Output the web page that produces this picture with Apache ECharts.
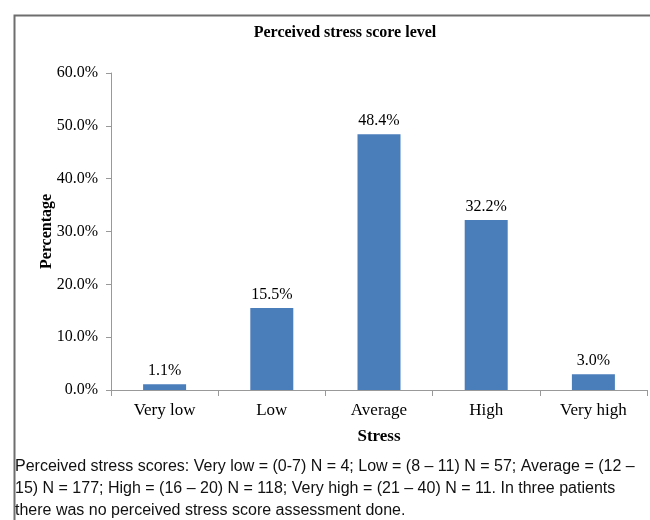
<!DOCTYPE html>
<html>
<head>
<meta charset="utf-8">
<script src="https://cdn.jsdelivr.net/npm/echarts@6/dist/echarts.min.js"></script>
<style>html,body{margin:0;padding:0;background:#fff;}#c{width:650px;height:520px;}</style>
</head>
<body>
<div id="c"></div>
<script>
const categories = ['Very low', 'Low', 'Average', 'High', 'Very high'];
const values = [1.1, 15.5, 48.4, 32.2, 3.0];
const yTicks = [0, 10, 20, 30, 40, 50, 60];
const titleText = 'Perceived stress score level';
const footnote = 'Perceived stress scores: Very low = (0-7) N = 4; Low = (8 \u2013 11) N = 57; Average = (12 \u2013\n15) N = 177; High = (16 \u2013 20) N = 118; Very high = (21 \u2013 40) N = 11. In three patients\nthere was no perceived stress score assessment done.';

const chart = echarts.init(document.getElementById('c'));
const serif = '"Liberation Serif", "Times New Roman", serif';
chart.setOption({
  animation: false,
  title: {
    text: titleText, left: 340, top: 20, textAlign: 'center',
    textStyle: { fontFamily: serif, fontSize: 16, fontWeight: 'bold', color: '#000' }
  },
  grid: { left: 111, right: 3, top: 73, bottom: 130, containLabel: false },
  xAxis: {
    type: 'category', data: categories,
    name: 'Stress', nameLocation: 'middle', nameGap: 38,
    nameTextStyle: { fontFamily: serif, fontSize: 17, fontWeight: 'bold', color: '#000' },
    axisLine: { lineStyle: { color: '#999', width: 1 } },
    axisTick: { show: true, alignWithLabel: false, length: 6, lineStyle: { color: '#999' } },
    axisLabel: { fontFamily: serif, fontSize: 17, color: '#000', margin: 12 }
  },
  yAxis: {
    type: 'value', min: yTicks[0], max: yTicks[yTicks.length - 1], interval: 10,
    name: 'Percentage', nameLocation: 'middle', nameGap: 56, nameRotate: 90, nameMoveOverlap: false,
    nameTextStyle: { fontFamily: serif, fontSize: 16, fontWeight: 'bold', color: '#000' },
    axisLine: { show: true, lineStyle: { color: '#999', width: 1 } },
    axisTick: { show: true, length: 5, lineStyle: { color: '#999' } },
    axisLabel: { fontFamily: serif, fontSize: 16, color: '#000', margin: 13, formatter: v => v.toFixed(1) + '%' },
    splitLine: { show: false }
  },
  series: [{
    type: 'bar', data: values, barWidth: 43,
    itemStyle: { color: '#4a7ebb' },
    label: { show: true, position: 'top', distance: 5, fontFamily: serif, fontSize: 16, color: '#000', formatter: p => p.value.toFixed(1) + '%' }
  }],
  graphic: [
    { type: 'rect', left: 12, top: 13, shape: { width: 660, height: 540 }, style: { fill: 'none', stroke: '#6e6e6e', lineWidth: 2 }, z: -1 },
    { type: 'text', left: 15, top: 456, style: { text: footnote, fontFamily: '"Liberation Sans", Arial, sans-serif', fontSize: 16, lineHeight: 22, fill: '#111' } }
  ]
});
</script>
</body>
</html>
